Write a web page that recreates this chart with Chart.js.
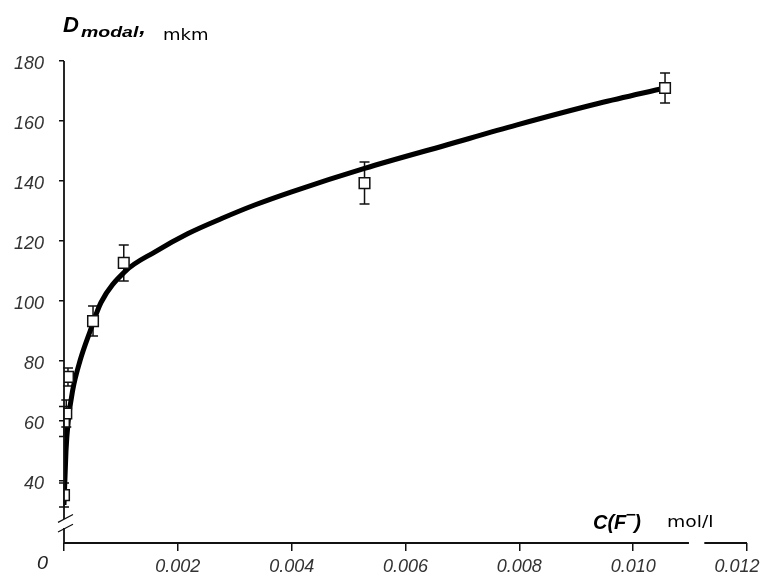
<!DOCTYPE html>
<html>
<head>
<meta charset="utf-8">
<script src="https://cdn.jsdelivr.net/npm/chart.js@4.4.1/dist/chart.umd.min.js"></script>
<style>
  html, body { margin: 0; padding: 0; background: #fff; }
  #wrap { width: 764px; height: 579px; position: relative; }
</style>
</head>
<body>
<div id="wrap"><canvas id="c" width="764" height="579"></canvas></div>
<script>
// Measured points (concentration of F-, mol/l) and modal diameter (mkm)
const concentration = [0, 0, 0.00004, 0.00007, 0.00051, 0.00105, 0.00528, 0.01056];
const diameter      = [35.3, 59.8, 62.5, 74.7, 93.3, 112.7, 139.3, 171];
const errors        = [4, 5, 4.5, 3, 5, 6, 7, 5];

// Fitted curve
const fitConcentration = [0, 0.000035, 0.000075, 0.00015, 0.00028, 0.00046, 0.00065, 0.00107, 0.0016, 0.00218, 0.00277, 0.00335, 0.0040, 0.00528, 0.00672, 0.00796, 0.0094, 0.01056];
const fitDiameter      = [32, 50, 60, 70, 80, 90, 99.5, 109.8, 116.4, 122.5, 127.5, 132, 136.4, 144.2, 152, 158.7, 165.9, 171];

// Tick labels
const xTickValues = [0, 0.002, 0.004, 0.006, 0.008, 0.010, 0.012];
const yTickValues = [40, 60, 80, 100, 120, 140, 160, 180];
const originLabel = '0';
const yTitleMain = 'D', yTitleSub = 'modal', yTitleComma = ',', yTitleUnit = 'mkm';
const xTitleMain = 'C(F', xTitleSup = '\u2212', xTitleClose = ')', xTitleUnit = 'mol/l';

const pointsData = concentration.map((c, i) => ({ x: c, y: diameter[i] }));
const fitData = fitConcentration.map((c, i) => ({ x: c, y: fitDiameter[i] }));

function stretchedText(ctx, text, x, y, font, sx) {
  ctx.save();
  ctx.font = font;
  ctx.translate(x, y);
  ctx.scale(sx, 1);
  ctx.fillText(text, 0, 0);
  const w = ctx.measureText(text).width * sx;
  ctx.restore();
  return w;
}

const decorPlugin = {
  id: 'decor',
  beforeDatasetsDraw(chart) {
    const ctx = chart.ctx;
    const xs = chart.scales.x, ys = chart.scales.y;
    // error bars
    ctx.save();
    ctx.strokeStyle = '#111';
    ctx.lineWidth = 1.5;
    concentration.forEach((c, i) => {
      const px = xs.getPixelForValue(c);
      const top = ys.getPixelForValue(diameter[i] + errors[i]);
      const bot = ys.getPixelForValue(diameter[i] - errors[i]);
      ctx.beginPath();
      ctx.moveTo(px, top); ctx.lineTo(px, bot);
      ctx.moveTo(px - 5, top); ctx.lineTo(px + 5, top);
      ctx.moveTo(px - 5, bot); ctx.lineTo(px + 5, bot);
      ctx.stroke();
    });
    ctx.restore();
  },
  afterDraw(chart) {
    const ctx = chart.ctx;
    const xs = chart.scales.x, ys = chart.scales.y;
    const ca = chart.chartArea;
    ctx.save();
    ctx.strokeStyle = '#111';
    ctx.lineWidth = 1.8;
    // y axis with break
    const x0 = xs.getPixelForValue(0);
    const yBreakTop = ys.getPixelForValue(27.3);
    const yBreakBot = ys.getPixelForValue(24.3);
    ctx.beginPath();
    ctx.moveTo(x0, ca.top); ctx.lineTo(x0, yBreakTop);
    ctx.moveTo(x0, yBreakBot); ctx.lineTo(x0, ca.bottom);
    ctx.stroke();
    ctx.lineWidth = 1.2;
    ctx.beginPath();
    ctx.moveTo(x0 - 6, ys.getPixelForValue(26.2)); ctx.lineTo(x0 + 9, ys.getPixelForValue(28.8));
    ctx.moveTo(x0 - 6, ys.getPixelForValue(23.0)); ctx.lineTo(x0 + 9, ys.getPixelForValue(25.6));
    ctx.stroke();
    // x axis with break
    ctx.lineWidth = 1.8;
    const xb1 = xs.getPixelForValue(0.01098), xb2 = xs.getPixelForValue(0.01125);
    ctx.beginPath();
    ctx.moveTo(x0, ca.bottom); ctx.lineTo(xb1, ca.bottom);
    ctx.moveTo(xb2, ca.bottom); ctx.lineTo(ca.right, ca.bottom);
    ctx.stroke();

    // texts
    ctx.fillStyle = '#222';
    ctx.textBaseline = 'alphabetic';
    ctx.textAlign = 'left';
    stretchedText(ctx, originLabel, x0 - 27, ca.bottom + 26, 'italic 18px "Liberation Sans", Arial, sans-serif', 1.1);

    ctx.fillStyle = '#000';
    let x = x0 - 1;
    x += stretchedText(ctx, yTitleMain, x, 32, 'italic bold 22px "Liberation Sans", Arial, sans-serif', 1.0);
    x += 2;
    x += stretchedText(ctx, yTitleSub, x, 37, 'italic bold 15px "Liberation Sans", Arial, sans-serif', 1.3);
    x += stretchedText(ctx, yTitleComma, x + 1, 34, 'italic bold 20px "Liberation Sans", Arial, sans-serif', 1.2);
    stretchedText(ctx, yTitleUnit, 163, 40, '15px "DejaVu Sans", Verdana, sans-serif', 1.2);

    let cx = 593;
    cx += stretchedText(ctx, xTitleMain, cx, 529, 'italic bold 20px "Liberation Sans", Arial, sans-serif', 1.0);
    stretchedText(ctx, xTitleSup, cx - 1, 519, 'bold 14px "DejaVu Sans", sans-serif', 1.0);
    cx += 8;
    stretchedText(ctx, xTitleClose, cx, 529, 'italic bold 20px "Liberation Sans", Arial, sans-serif', 1.0);
    stretchedText(ctx, xTitleUnit, 667, 527, '15px "DejaVu Sans", Verdana, sans-serif', 1.25);
    ctx.restore();
  }
};

new Chart(document.getElementById('c'), {
  type: 'scatter',
  data: {
    datasets: [
      {
        label: 'measured',
        data: pointsData,
        order: 0,
        pointStyle: 'rect',
        pointRadius: 7.5,
        pointBackgroundColor: '#fff',
        pointBorderColor: '#111',
        pointBorderWidth: 1.5,
        showLine: false
      },
      {
        label: 'fit',
        data: fitData,
        order: 1,
        showLine: true,
        borderColor: '#000',
        borderWidth: 5,
        pointRadius: 0,
        cubicInterpolationMode: 'monotone',
        fill: false
      }
    ]
  },
  options: {
    responsive: false,
    animation: false,
    devicePixelRatio: 1,
    layout: { autoPadding: false, padding: { left: 0, right: 17, top: 61, bottom: 0 } },
    plugins: { legend: { display: false }, tooltip: { enabled: false } },
    scales: {
      x: {
        type: 'linear',
        min: 0, max: 0.012,
        afterBuildTicks(axis) { axis.ticks = xTickValues.map(v => ({ value: v })); },
        afterFit(axis) { axis.height = 36; axis.paddingLeft = 0; axis.paddingRight = 0; },
        border: { display: false },
        grid: { drawOnChartArea: false, drawTicks: true, tickLength: 8, color: '#111', lineWidth: 1.5 },
        ticks: {
          padding: 5,
          color: '#333',
          font: { family: '"Liberation Sans", Arial, sans-serif', size: 18, style: 'italic' },
          maxRotation: 0,
          callback: (v, i, arr) => v === 0 ? '' : (i === arr.length - 1 ? v.toFixed(3) + '    ' : v.toFixed(3))
        }
      },
      y: {
        type: 'linear',
        min: 19.33, max: 180,
        afterBuildTicks(axis) { axis.ticks = yTickValues.map(v => ({ value: v })); },
        afterFit(axis) { axis.width = 64; axis.paddingTop = 0; axis.paddingBottom = 0; },
        border: { display: false },
        grid: { drawOnChartArea: false, drawTicks: true, tickLength: 5, color: '#111', lineWidth: 1.5 },
        ticks: {
          padding: 15,
          labelOffset: 3,
          color: '#333',
          font: { family: '"Liberation Sans", Arial, sans-serif', size: 18, style: 'italic' }
        }
      }
    }
  },
  plugins: [decorPlugin]
});
</script>
</body>
</html>
